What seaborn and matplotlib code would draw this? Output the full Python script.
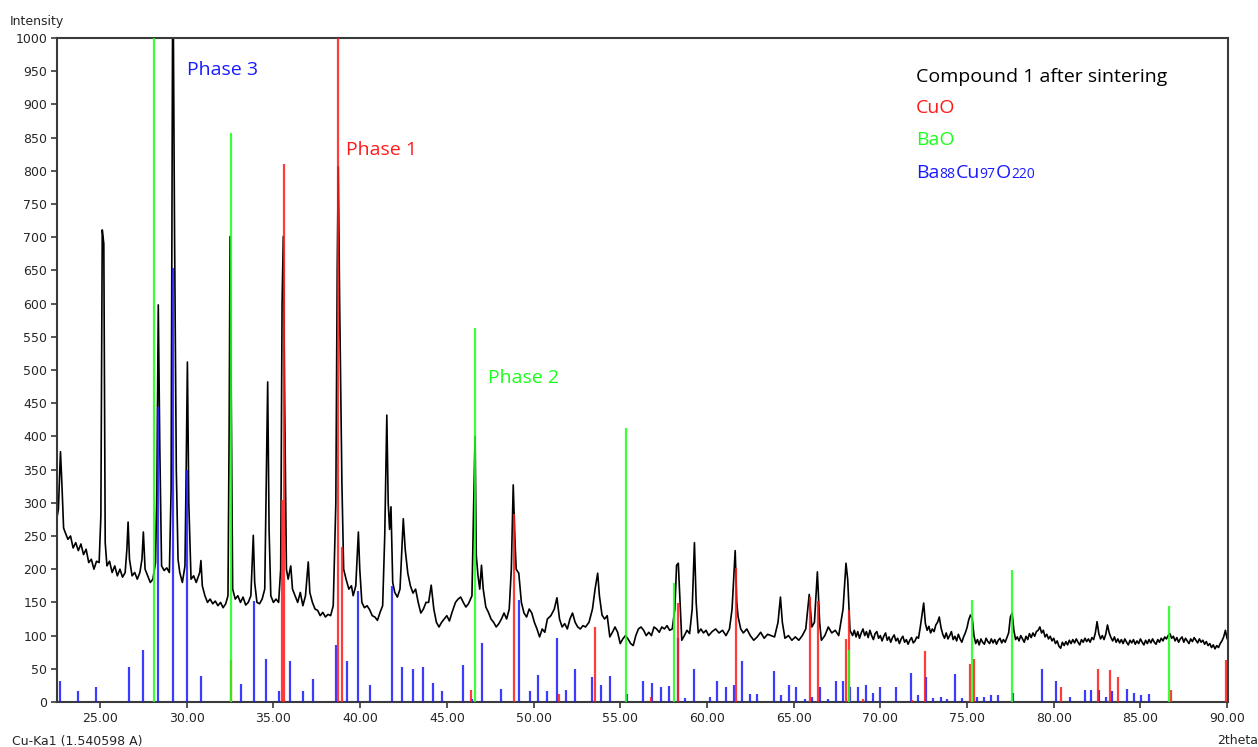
import matplotlib
matplotlib.use("Agg")
import matplotlib.pyplot as plt
import pandas as pd
import seaborn as sns
from matplotlib.ticker import FormatStrFormatter, MultipleLocator

TWO_THETA = [
    22.5, 22.6, 22.72, 22.8, 22.9, 23.0, 23.15, 23.3, 23.45, 23.6, 23.75, 23.9,
    24.05, 24.2, 24.35, 24.5, 24.65, 24.8, 24.95, 25.05, 25.13, 25.22, 25.3, 25.4,
    25.55, 25.7, 25.85, 26.0, 26.15, 26.3, 26.45, 26.55, 26.62, 26.7, 26.85, 27.0,
    27.15, 27.3, 27.42, 27.5, 27.6, 27.75, 27.9, 28.05, 28.2, 28.28, 28.36, 28.45,
    28.55, 28.7, 28.85, 29.0, 29.1, 29.2, 29.3, 29.4, 29.5, 29.6, 29.75, 29.9,
    29.97, 30.04, 30.12, 30.25, 30.4, 30.55, 30.75, 30.82, 30.9, 31.05, 31.2, 31.35,
    31.5, 31.65, 31.8, 31.95, 32.1, 32.25, 32.38, 32.45, 32.5, 32.57, 32.65, 32.8,
    32.95, 33.1, 33.25, 33.4, 33.55, 33.7, 33.84, 33.92, 34.05, 34.2, 34.35, 34.5,
    34.6, 34.67, 34.75, 34.85, 35.0, 35.15, 35.3, 35.42, 35.5, 35.57, 35.65, 35.75,
    35.85, 36.0, 36.1, 36.25, 36.4, 36.55, 36.7, 36.85, 37.01, 37.1, 37.25, 37.4,
    37.55, 37.7, 37.85, 38.0, 38.15, 38.3, 38.45, 38.6, 38.68, 38.74, 38.82, 38.95,
    39.05, 39.2, 39.35, 39.5, 39.6, 39.75, 39.85, 39.9, 39.98, 40.1, 40.25, 40.4,
    40.55, 40.7, 40.85, 41.0, 41.15, 41.3, 41.42, 41.54, 41.62, 41.7, 41.78, 41.88,
    42.0, 42.15, 42.3, 42.49, 42.6, 42.75, 42.9, 43.05, 43.2, 43.35, 43.5, 43.65,
    43.8, 43.95, 44.1, 44.25, 44.4, 44.55, 44.7, 44.85, 45.0, 45.15, 45.3, 45.5,
    45.65, 45.8, 45.95, 46.1, 46.25, 46.45, 46.55, 46.63, 46.7, 46.8, 46.9, 47.0,
    47.1, 47.25, 47.4, 47.55, 47.7, 47.85, 48.0, 48.15, 48.3, 48.45, 48.6, 48.72,
    48.83, 48.92, 49.0, 49.15, 49.3, 49.45, 49.6, 49.75, 49.9, 50.05, 50.2, 50.35,
    50.5, 50.65, 50.8, 51.0, 51.2, 51.35, 51.5, 51.65, 51.8, 51.95, 52.1, 52.25,
    52.4, 52.55, 52.7, 52.85, 53.0, 53.2, 53.4, 53.55, 53.7, 53.8, 53.95, 54.1,
    54.25, 54.4, 54.55, 54.7, 54.85, 55.0, 55.15, 55.3, 55.45, 55.6, 55.75, 55.9,
    56.05, 56.2, 56.35, 56.5, 56.65, 56.8, 56.95, 57.1, 57.25, 57.4, 57.55, 57.7,
    57.85, 58.0, 58.15, 58.25, 58.35, 58.45, 58.55, 58.7, 58.85, 59.0, 59.15, 59.28,
    59.38, 59.5, 59.65, 59.8, 59.95, 60.1, 60.3, 60.5, 60.7, 60.9, 61.1, 61.3,
    61.45, 61.63, 61.72, 61.8, 61.95, 62.1, 62.3, 62.5, 62.7, 62.9, 63.1, 63.3,
    63.5, 63.7, 63.9, 64.1, 64.24, 64.35, 64.5, 64.7, 64.9, 65.1, 65.3, 65.5,
    65.7, 65.9, 66.05, 66.2, 66.37, 66.5, 66.6, 66.8, 67.0, 67.2, 67.4, 67.6,
    67.85, 68.02, 68.12, 68.25,
    68.4, 68.5, 68.6, 68.7, 68.8, 68.9, 69.0, 69.1, 69.2, 69.3, 69.4, 69.5,
    69.6, 69.7, 69.8, 69.9, 70.0, 70.1, 70.2, 70.3, 70.4, 70.5, 70.6, 70.7,
    70.8, 70.9, 71.0, 71.1, 71.2, 71.3, 71.4, 71.5, 71.6, 71.7, 71.8, 71.9,
    72.0, 72.1, 72.2, 72.3, 72.4, 72.5, 72.6, 72.7, 72.8, 72.9, 73.0, 73.1,
    73.2, 73.3, 73.4, 73.5, 73.6, 73.7, 73.8, 73.9, 74.0, 74.1, 74.2, 74.3,
    74.4, 74.5, 74.6, 74.7, 74.8, 74.9, 75.0, 75.1, 75.2, 75.3, 75.4, 75.5,
    75.6, 75.7, 75.8, 75.9, 76.0, 76.1, 76.2, 76.3, 76.4, 76.5, 76.6, 76.7,
    76.8, 76.9, 77.0, 77.1, 77.2, 77.3, 77.4, 77.5, 77.6, 77.7, 77.8, 77.9,
    78.0, 78.1, 78.2, 78.3, 78.4, 78.5, 78.6, 78.7, 78.8, 78.9, 79.0, 79.1,
    79.2, 79.3, 79.4, 79.5, 79.6, 79.7, 79.8, 79.9, 80.0, 80.1, 80.2, 80.3,
    80.4, 80.5, 80.6, 80.7, 80.8, 80.9, 81.0, 81.1, 81.2, 81.3, 81.4, 81.5,
    81.6, 81.7, 81.8, 81.9, 82.0, 82.1, 82.2, 82.3, 82.4, 82.5, 82.6, 82.7,
    82.8, 82.9, 83.0, 83.1, 83.2, 83.3, 83.4, 83.5, 83.6, 83.7, 83.8, 83.9,
    84.0, 84.1, 84.2, 84.3, 84.4, 84.5, 84.6, 84.7, 84.8, 84.9, 85.0, 85.1,
    85.2, 85.3, 85.4, 85.5, 85.6, 85.7, 85.8, 85.9, 86.0, 86.1, 86.2, 86.3,
    86.4, 86.5, 86.6, 86.7, 86.8, 86.9, 87.0, 87.1, 87.2, 87.3, 87.4, 87.5,
    87.6, 87.7, 87.8, 87.9, 88.0, 88.1, 88.2, 88.3, 88.4, 88.5, 88.6, 88.7,
    88.8, 88.9, 89.0, 89.1, 89.2, 89.3, 89.4, 89.5, 89.6, 89.7, 89.8, 89.9,
    90.0,
]
COUNTS = [
    275, 290, 377, 330, 262, 255, 245, 250, 232, 240, 228, 238,
    222, 230, 210, 215, 200, 212, 210, 280, 711, 690, 240, 205,
    212, 195, 205, 190, 200, 188, 195, 230, 271, 215, 190, 195,
    185, 195, 215, 256, 200, 190, 180, 185, 210, 320, 598, 380,
    205, 198, 202, 195, 320, 1150, 700, 350, 215, 195, 180, 205,
    350, 512, 300, 185, 190, 180, 195, 213, 175, 160, 150, 155,
    148, 152, 145, 150, 142, 148, 160, 420, 701, 450, 170, 155,
    160, 150, 158, 146, 150, 160, 251, 180, 150, 148, 155, 170,
    350, 482, 260, 160, 150, 155, 150, 200, 600, 701, 450, 200,
    185, 205, 170, 160, 150, 165, 145, 160, 211, 165, 150, 140,
    138, 130, 135, 128, 132, 130, 145, 300, 650, 806, 600, 330,
    200, 184, 170, 175, 160, 175, 230, 256, 200, 150, 142, 145,
    139, 130, 128, 123, 135, 145, 250, 432, 300, 260, 294, 180,
    165, 158, 170, 276, 230, 194, 175, 164, 170, 150, 134, 140,
    150, 150, 176, 140, 120, 113, 120, 125, 130, 122, 135, 150,
    155, 158, 150, 143, 148, 160, 300, 400, 220, 190, 170, 206,
    170, 143, 135, 125, 120, 113, 118, 125, 134, 125, 140, 200,
    327, 250, 200, 194, 150, 134, 128, 140, 134, 120, 110, 98,
    110, 105, 125, 130, 140, 157, 125, 113, 118, 110, 125, 134,
    120, 113, 110, 115, 113, 120, 140, 170, 194, 160, 131, 125,
    130, 98, 105, 113, 105, 88, 95, 100, 95, 88, 85, 100,
    110, 113, 108, 100, 105, 100, 113, 110, 105, 113, 110, 115,
    108, 110, 140, 206, 209, 150, 93, 100, 108, 103, 140, 240,
    150, 104, 110, 104, 108, 100, 106, 110, 104, 108, 100, 110,
    140, 228, 150, 128, 110, 104, 110, 100, 93, 98, 105, 96,
    102, 100, 98, 120, 158, 120, 96, 100, 93, 98, 93, 100,
    110, 162, 113, 120, 196, 120, 93, 100, 113, 104, 108, 100,
    140, 209, 184, 108,
    100, 108, 98, 106, 96, 104, 110, 100, 106, 97, 108, 100,
    94, 103, 106, 96, 100, 92, 99, 104, 93, 98, 90, 97,
    101, 92, 96, 88, 95, 99, 90, 94, 87, 93, 97, 89,
    92, 98, 96, 112, 130, 149, 118, 108, 114, 104, 110, 106,
    116, 120, 128, 112, 102, 96, 104, 95, 100, 106, 94, 99,
    92, 102, 95, 90, 98, 104, 112, 124, 131, 126, 100, 88,
    94, 86, 95, 90, 87, 96, 91, 88, 95, 89, 94, 87,
    93, 96, 89, 94, 90, 97, 104, 128, 134, 108, 94, 98,
    92, 100, 95, 90, 99, 94, 103, 97, 104, 99, 106, 108,
    113, 104, 108, 98, 102, 95, 99, 92, 96, 88, 92, 84,
    81, 90, 85, 91, 86, 93, 88, 94, 89, 95, 90, 86,
    94, 90, 96, 91, 95, 90, 97, 94, 104, 121, 103, 95,
    100, 94, 102, 116, 104, 97, 92, 98, 90, 95, 89, 94,
    88, 95, 90, 86, 93, 89, 94, 87, 92, 88, 95, 90,
    86, 93, 88, 94, 89, 95, 90, 87, 94, 90, 96, 92,
    98, 95, 100, 103, 96, 99, 92, 97, 90, 95, 98, 90,
    96, 92, 88, 95, 91, 97, 93, 89, 95, 90, 93, 87,
    91, 85, 88, 82, 86, 80, 85, 82, 88, 92, 98, 108,
    95,
]

# reference patterns (stick positions / relative intensity)
CUO_POS = [32.58, 35.50, 35.62, 38.72, 38.98, 46.38, 48.85, 51.45, 53.52, 56.79,
           58.35, 61.68, 65.94, 66.38, 68.02, 68.19, 68.98, 71.80, 72.56, 75.20,
           75.40, 80.40, 82.57, 83.23, 83.72, 86.76, 89.96]
CUO_INT = [63, 304, 810, 1000, 233, 18, 283, 12, 113, 8,
           149, 202, 158, 152, 95, 139, 5, 3, 77, 57,
           65, 23, 50, 48, 38, 18, 63]

BAO_POS = [28.11, 32.55, 46.63, 55.33, 58.10, 68.19, 75.28, 77.59, 86.64]
BAO_INT = [1000, 857, 563, 413, 179, 78, 153, 199, 145]

BCO_POS = [22.71, 23.75, 24.75, 26.65, 27.50, 28.36, 29.23, 30.00, 30.83, 33.13,
           33.88, 34.57, 35.32, 35.96, 36.69, 37.30, 38.60, 39.27, 39.90, 40.57,
           41.82, 42.40, 43.03, 43.60, 44.18, 44.75, 45.93, 46.43, 47.02, 48.10,
           49.18, 49.77, 50.27, 50.75, 51.35, 51.85, 52.37, 53.37, 53.89, 54.39,
           55.38, 56.34, 56.84, 57.34, 57.79, 58.33, 58.74, 59.24, 60.15, 60.60,
           61.10, 61.54, 62.02, 62.47, 62.91, 63.85, 64.29, 64.72, 65.14, 65.66,
           66.08, 66.54, 66.98, 67.42, 67.85, 68.28, 68.70, 69.16, 69.59, 70.01,
           70.90, 71.76, 72.18, 72.63, 73.06, 73.49, 73.87, 74.30, 74.72, 75.58,
           76.00, 76.39, 76.81, 77.67, 79.33, 80.13, 80.94, 81.78, 82.15, 82.59,
           83.01, 83.36, 84.24, 84.61, 85.03, 85.47]
BCO_INT = [31, 16, 22, 52, 78, 445, 654, 350, 39, 27,
           152, 65, 16, 61, 16, 34, 86, 62, 167, 25,
           175, 52, 50, 52, 29, 16, 56, 5, 89, 20,
           154, 16, 41, 16, 97, 18, 49, 37, 26, 39,
           12, 32, 29, 22, 24, 96, 6, 50, 7, 31,
           22, 26, 62, 12, 12, 46, 10, 26, 23, 5,
           7, 22, 5, 32, 32, 22, 22, 26, 14, 23,
           23, 44, 10, 37, 6, 8, 5, 42, 6, 8,
           8, 10, 10, 13, 50, 32, 8, 18, 18, 18,
           8, 17, 20, 13, 10, 12]

RED = "#ff1a1a"
GREEN = "#1aff1a"
BLUE = "#1a1aff"
LABEL_FONT = ["Open Sans", "DejaVu Sans"]


def draw_formula(fig, x_pos, y_pos, parts, color):
    """Write text pieces of mixed size one after another on a shared baseline."""
    renderer = fig.canvas.get_renderer()
    for piece, size in parts:
        txt = fig.text(x_pos, y_pos, piece, fontsize=size, color=color,
                       ha="left", va="baseline", family=LABEL_FONT)
        x_pos += txt.get_window_extent(renderer).width / fig.bbox.width


sns.set_style("white")
plt.rcParams["font.family"] = ["DejaVu Sans"]

scan = pd.DataFrame({"two_theta": TWO_THETA, "intensity": COUNTS})

fig = plt.figure(figsize=(12.58, 7.47), dpi=100)
ax = fig.add_axes([57 / 1258, 1 - 702 / 747, (1228 - 57) / 1258, (702 - 38) / 747])

sns.lineplot(data=scan, x="two_theta", y="intensity", color="black", linewidth=1.2,
             estimator=None, sort=False, ax=ax, zorder=2)

ax.vlines(BCO_POS, 0, BCO_INT, colors=BLUE, linewidth=1.6, alpha=0.85, zorder=3)
ax.vlines(CUO_POS, 0, CUO_INT, colors=RED, linewidth=1.6, alpha=0.85, zorder=4)
ax.vlines(BAO_POS, 0, BAO_INT, colors=GREEN, linewidth=1.6, alpha=0.85, zorder=5)

ax.set_xlim(22.52, 90.05)
ax.set_ylim(0, 1000)
ax.xaxis.set_major_locator(MultipleLocator(5))
ax.xaxis.set_major_formatter(FormatStrFormatter("%.2f"))
ax.yaxis.set_major_locator(MultipleLocator(50))
ax.set_xlabel("")
ax.set_ylabel("")

for spine in ax.spines.values():
    spine.set_color("#3a3a3a")
    spine.set_linewidth(1.5)
ax.tick_params(axis="both", direction="out", length=4, width=1.2, color="#3a3a3a",
               labelsize=9, pad=3, left=True, bottom=True)

ax.text(30.02, 952, "Phase 3", color=BLUE, fontsize=14, va="center", family=LABEL_FONT)
ax.text(39.19, 831, "Phase 1", color=RED, fontsize=14, va="center", family=LABEL_FONT)
ax.text(47.38, 488, "Phase 2", color=GREEN, fontsize=14, va="center", family=LABEL_FONT)

fig.text(916 / 1258, 1 - 77 / 747, "Compound 1 after sintering", color="black",
         fontsize=14, va="center", family=LABEL_FONT)
fig.text(916 / 1258, 1 - 108 / 747, "CuO", color=RED, fontsize=14, va="center",
         family=LABEL_FONT)
fig.text(916 / 1258, 1 - 140 / 747, "BaO", color=GREEN, fontsize=14, va="center",
         family=LABEL_FONT)
draw_formula(fig, 916 / 1258, 1 - 178 / 747,
             [("Ba", 14), ("88", 10), ("Cu", 14), ("97", 10), ("O", 14), ("220", 10)],
             BLUE)

fig.text(10 / 1258, 1 - 22 / 747, "Intensity", fontsize=9, va="center")
fig.text(12 / 1258, 1 - 742 / 747, "Cu-Ka1 (1.540598 A)", fontsize=9, va="center")
fig.text(1258 / 1258, 1 - 740 / 747, "2theta", fontsize=9, va="center", ha="right")

fig.savefig("out.png", dpi=100)
